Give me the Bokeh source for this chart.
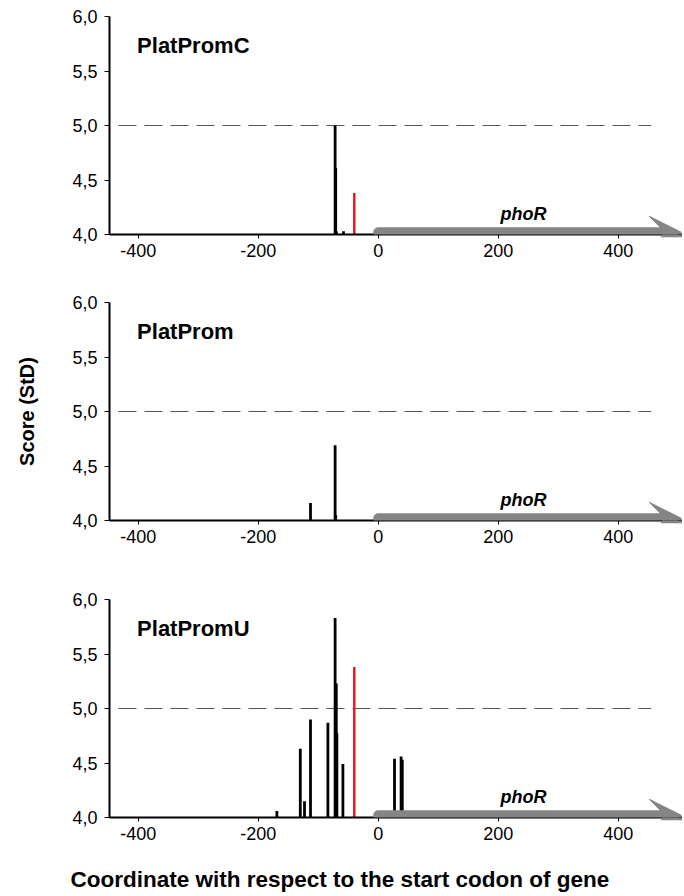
from bokeh.plotting import figure
from bokeh.layouts import column
from bokeh.models import Arrow, VeeHead, Label, Title, CustomJSTickFormatter, FixedTicker, Range1d
from bokeh.embed import file_html
from bokeh.resources import INLINE

panel_names = ["PlatPromC", "PlatProm", "PlatPromU"]
gene = "phoR"
x_ticks = [-400, -200, 0, 200, 400]
y_ticks = [4.0, 4.5, 5.0, 5.5, 6.0]
threshold = 5.0
gene_start = 0
gene_end = 505

c_black_pos = [-72, -71, -70, -58]
c_black_score = [5.00, 4.61, 4.03, 4.03]
c_red_pos = [-40]
c_red_score = [4.38]

p_black_pos = [-113, -72, -71]
p_black_score = [4.16, 4.69, 4.05]
p_red_pos = []
p_red_score = []

u_black_pos = [-169, -130, -123, -113, -84, -72, -70, -69, -59, 27, 38, 40]
u_black_score = [4.06, 4.63, 4.15, 4.90, 4.87, 5.83, 5.23, 4.77, 4.49, 4.54, 4.56, 4.53]
u_red_pos = [-40]
u_red_score = [5.38]

FONT = "Liberation Sans"
GREY = "#858585"

panels = [
    (panel_names[0], c_black_pos, c_black_score, c_red_pos, c_red_score),
    (panel_names[1], p_black_pos, p_black_score, p_red_pos, p_red_score),
    (panel_names[2], u_black_pos, u_black_score, u_red_pos, u_red_score),
]
heights = [294, 297, 305]
tops = [16, 8, 8]
bottoms = [60, 71, 79]

figs = []
for i, (name, bx, by, rx, ry) in enumerate(panels):
    p = figure(width=682, height=heights[i], output_backend="svg", toolbar_location=None,
               x_range=Range1d(-448, 507), y_range=Range1d(4.0, 6.0),
               min_border_left=109, min_border_right=0, min_border_top=tops[i],
               min_border_bottom=bottoms[i])
    p.outline_line_color = None
    p.grid.visible = False
    p.background_fill_color = "white"
    p.border_fill_color = "white"

    for ax in (p.xaxis[0], p.yaxis[0]):
        ax.axis_line_width = 2
        ax.axis_line_color = "black"
        ax.major_tick_line_color = "black"
        ax.major_tick_line_width = 1
        ax.major_tick_in = 0
        ax.minor_tick_line_color = None
        ax.major_label_text_font = FONT
        ax.major_label_text_font_size = "18px"
        ax.major_label_text_color = "black"
    p.xaxis.ticker = FixedTicker(ticks=x_ticks)
    p.yaxis.ticker = FixedTicker(ticks=y_ticks)
    p.xaxis.major_tick_out = 4
    p.yaxis.major_tick_out = 5
    p.xaxis.major_label_standoff = 5
    p.yaxis.major_label_standoff = 7
    p.xaxis.formatter = CustomJSTickFormatter(code="return tick.toString();")
    p.yaxis.formatter = CustomJSTickFormatter(code="return tick.toFixed(1).replace('.', ',');")

    # threshold line
    p.segment(x0=[-433], y0=[threshold], x1=[455], y1=[threshold],
              line_color="#555555", line_width=1.2, line_dash="18 8")

    # bars
    p.segment(x0=bx, y0=[4.0] * len(bx), x1=bx, y1=by, line_color="black", line_width=2.8)
    if rx:
        p.segment(x0=rx, y0=[4.0] * len(rx), x1=rx, y1=ry, line_color="#e8141b", line_width=2.4)

    # gene arrow
    arr = Arrow(end=VeeHead(size=32, fill_color=GREY, line_color=GREY, line_width=1),
                x_start=gene_start, y_start=4.02, x_end=gene_end, y_end=4.02,
                line_color=GREY, line_width=10, line_cap="round")
    p.add_layout(arr)
    p.add_layout(Label(x=242, y=4.19, text=gene, text_font=FONT, text_font_size="18px",
                       text_font_style="bold italic", text_align="center",
                       text_baseline="middle", text_color="black"))

    p.add_layout(Label(x=-402, y=5.73, text=name, text_font=FONT, text_font_size="22px",
                       text_font_style="bold", text_align="left",
                       text_baseline="middle", text_color="black"))

    if i == 1:
        p.yaxis.axis_label = "Score (StD)"
        p.yaxis.axis_label_text_font = FONT
        p.yaxis.axis_label_text_font_size = "20px"
        p.yaxis.axis_label_text_font_style = "bold"
        p.yaxis.axis_label_text_color = "black"
        p.yaxis.axis_label_standoff = 31
    if i == 2:
        # spacer so the overall x title sits lower, as in the reference
        p.xaxis.axis_label = " "
        p.xaxis.axis_label_text_font_size = "8px"
        p.xaxis.axis_label_standoff = 10
        p.add_layout(Title(text="Coordinate with respect to the start codon of gene",
                           align="left", offset=-39, text_font=FONT,
                           text_font_size="22.5px", text_font_style="bold",
                           text_color="black", standoff=0), "below")
    figs.append(p)

layout = column(*figs, spacing=0)
open("out.html", "w").write(file_html(layout, INLINE))
